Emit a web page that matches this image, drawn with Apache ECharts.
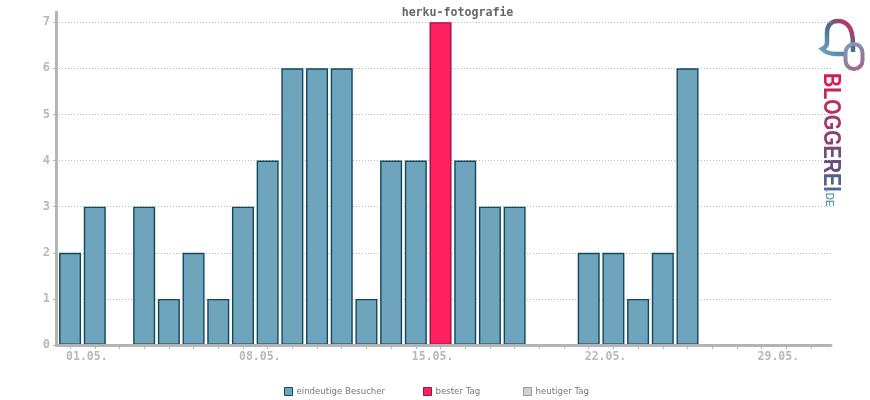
<!DOCTYPE html>
<html>
<head>
<meta charset="utf-8">
<style>html,body{margin:0;padding:0;background:#fff}#main{width:870px;height:400px}</style>
<script src="https://cdn.jsdelivr.net/npm/echarts@6/dist/echarts.min.js"></script>
</head>
<body>
<div id="main"></div>
<script>
var days = [];
for (var d = 1; d <= 31; d++) days.push(d);
var visitors = [2,3,0,3,1,2,1,3,4,6,6,6,1,4,4,0,4,3,3,0,0,2,2,1,2,6,0,0,0,0,0];
var bestDay = [0,0,0,0,0,0,0,0,0,0,0,0,0,0,0,7,0,0,0,0,0,0,0,0,0,0,0,0,0,0,0];
var todayVisits = [];
var labelDays = [1,8,15,22,29];
var yTicks = [0,1,2,3,4,5,6,7];
var seriesNames = ['eindeutige Besucher','bester Tag','heutiger Tag'];
var logoLetters = ['B','L','O','G','G','E','R','E','I'];
var logoColors = ['#d81b50','#c9245a','#b82f62','#a5386a','#8f4272','#7a4a78','#654f80','#55608c','#4a6a96'];

function pairs(values) {
	var out = [];
	for (var i = 0; i < values.length; i++) {
		if (values[i] > 0) out.push([days[i], values[i]]);
	}
	return out;
}
function dayLabel(v) {
	return (v < 10 ? '0' + v : v) + '.05.';
}
function barSeries(name, values, fill, border) {
	return {
		name: name,
		type: 'bar',
		data: pairs(values),
		barWidth: 22,
		barGap: '-100%',
		z: 2,
		itemStyle: {color: fill, borderColor: border, borderWidth: 1.4}
	};
}
function legendItem(name, left) {
	return {
		left: left,
		top: 387,
		icon: 'rect',
		itemWidth: 8,
		itemHeight: 8,
		padding: 0,
		selectedMode: false,
		itemStyle: {borderWidth: 1},
		textStyle: {fontFamily: 'DejaVu Sans', fontSize: 8.6, color: '#777', padding: [0,0,0,-1]},
		data: [name]
	};
}

// logo text is coloured letter by letter
var logoText = '';
var logoRich = {};
for (var i = 0; i < logoLetters.length; i++) {
	logoText += '{l' + i + '|' + logoLetters[i] + '}';
	logoRich['l' + i] = {fontFamily: 'Liberation Sans', fontWeight: 'bold', fontSize: 23, fill: logoColors[i], color: logoColors[i]};
}
var bubbleGrad = new echarts.graphic.LinearGradient(0, 1, 1, 0, [
	{offset: 0, color: '#6fb0c8'},
	{offset: 0.55, color: '#4d6a8c'},
	{offset: 1, color: '#ff1550'}
]);
var bubbleGrad2 = new echarts.graphic.LinearGradient(0, 0, 1, 1, [
	{offset: 0, color: '#6fa8c0'},
	{offset: 1, color: '#b05a80'}
]);
var bubblePath = 'M853 52 C853 40 853 34 850 28 C847 23 842 21 838 21 C830 21 827 27 827 33 L827 43 C827 47 824 48 822 49 C827 54 832 54 836 54 L846 54';
echarts.graphic.registerShape('logoBubble', echarts.graphic.extendPath(bubblePath, {}));

var myChart = echarts.init(document.getElementById('main'));
var option = {
	animation: false,
	backgroundColor: '#fff',
	title: {
		text: 'herku-fotografie',
		left: 452.5,
		top: 2,
		textAlign: 'center',
		textStyle: {fontFamily: 'DejaVu Sans Mono', fontWeight: 'bold', fontSize: 11.6, color: '#666'}
	},
	legend: [
		legendItem(seriesNames[0], 284),
		legendItem(seriesNames[1], 423),
		legendItem(seriesNames[2], 523)
	],
	grid: {left: 56, right: 39, top: 12, bottom: 55},
	xAxis: {
		type: 'value',
		min: 0.43,
		max: 31.81,
		axisLine: {onZero: false, lineStyle: {color: '#b4b4b4', width: 3}},
		axisTick: {show: true, length: 4, customValues: days, lineStyle: {color: '#b4b4b4'}},
		axisLabel: {
			customValues: labelDays,
			formatter: dayLabel,
			align: 'left',
			margin: 6,
			padding: [0,0,0,-4],
			fontFamily: 'DejaVu Sans Mono',
			fontWeight: 'bold',
			fontSize: 11.5,
			color: '#b8b8b8'
		},
		splitLine: {show: false},
		z: 5
	},
	yAxis: {
		type: 'value',
		min: 0,
		max: 7.22,
		axisLine: {show: true, lineStyle: {color: '#b4b4b4', width: 3}},
		axisTick: {show: true, length: 3, customValues: yTicks, lineStyle: {color: '#b4b4b4'}},
		axisLabel: {
			customValues: yTicks,
			margin: 6,
			padding: [3,0,0,0],
			fontFamily: 'DejaVu Sans Mono',
			fontWeight: 'bold',
			fontSize: 12,
			color: '#b8b8b8'
		},
		splitLine: {show: true, customValues: yTicks, lineStyle: {color: '#bbb', type: [1,2], width: 1}},
		z: 0
	},
	series: [
		barSeries(seriesNames[0], visitors, '#6ea4bc', '#12485c'),
		barSeries(seriesNames[1], bestDay, '#ff2060', '#a01040'),
		barSeries(seriesNames[2], todayVisits, '#d0d0d0', '#999')
	],
	graphic: [
		{type: 'logoBubble', style: {fill: 'none', stroke: bubbleGrad, lineWidth: 4.5}},
		{type: 'rect', shape: {x: 845.5, y: 44, width: 17, height: 25, r: 8.5}, style: {fill: 'none', stroke: bubbleGrad2, lineWidth: 4}},
		{
			type: 'text',
			x: 842,
			y: 73,
			rotation: -Math.PI / 2,
			scaleX: 0.86,
			style: {text: logoText, rich: logoRich}
		},
		{
			type: 'text',
			x: 834,
			y: 190,
			rotation: -Math.PI / 2,
			style: {text: '.DE', fontFamily: 'Liberation Sans', fontSize: 10, fill: '#3f7fa5'}
		}
	]
};
myChart.setOption(option);
</script>
</body>
</html>
